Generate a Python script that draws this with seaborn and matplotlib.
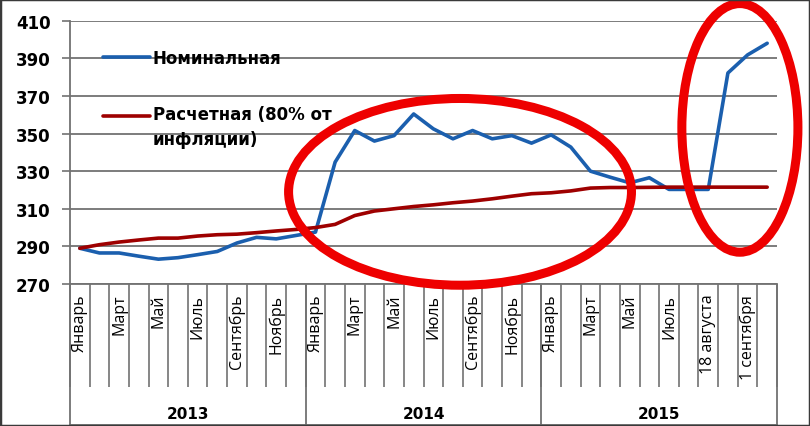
import matplotlib
matplotlib.use("Agg")
import matplotlib.pyplot as plt
import seaborn as sns
import pandas as pd
import numpy as np
from matplotlib.patches import Ellipse, Rectangle
from matplotlib.lines import Line2D
from matplotlib.legend_handler import HandlerLine2D

# ---------------- data ----------------
months = ["Январь", "Февраль", "Март", "Апрель", "Май", "Июнь",
          "Июль", "Август", "Сентябрь", "Октябрь", "Ноябрь", "Декабрь"]
periods_2015 = ["Январь", "Февраль", "Март", "Апрель", "Май", "Июнь",
                "Июль", "11 августа", "18 августа", "25 августа",
                "1 сентября", "8 сентября"]
categories = months + months + periods_2015
years = ["2013", "2014", "2015"]
year_sizes = [12, 12, 12]

nominal = [289.0, 286.5, 286.5, 284.8, 283.2, 284.0, 285.6, 287.3, 291.8, 294.8, 294.0, 295.8,
           297.6, 334.8, 351.6, 346.0, 348.9, 360.4, 352.5, 347.2, 351.6, 347.2, 348.9, 344.9,
           349.3, 342.8, 330.0, 326.8, 323.8, 326.5, 320.3, 320.3, 320.3, 382.2, 391.8, 398.0]
estimated = [289.0, 290.9, 292.3, 293.4, 294.4, 294.4, 295.5, 296.2, 296.5, 297.3, 298.2, 299.0,
             300.0, 301.7, 306.4, 308.8, 310.0, 311.2, 312.1, 313.2, 314.1, 315.3, 316.7, 318.0,
             318.5, 319.5, 321.0, 321.3, 321.3, 321.4, 321.5, 321.5, 321.5, 321.5, 321.5, 321.5]

series_names = ["Номинальная", "Расчетная (80% от\nинфляции)"]
series_colors = ["#1b5fae", "#9e0000"]
y_ticks = [270, 290, 310, 330, 350, 370, 390, 410]

# ---------------- style ----------------
sns.set_theme(style="white")
plt.rcParams['font.family'] = ['DejaVu Sans']
plt.rcParams['text.color'] = 'black'
plt.rcParams['xtick.color'] = 'black'
plt.rcParams['ytick.color'] = 'black'

W, H = 810, 427
fig = plt.figure(figsize=(W / 100, H / 100), dpi=100)
ax_left, ax_right, ax_top, ax_bottom = 70, 777, 21.7, 285
ax_h_px = ax_bottom - ax_top
ax = fig.add_axes([ax_left / W, (H - ax_bottom) / H, (ax_right - ax_left) / W, ax_h_px / H])

n = len(categories)
df = pd.DataFrame({
    "idx": list(range(n)) * 2,
    "value": nominal + estimated,
    "series": [series_names[0]] * n + [series_names[1]] * n,
})
sns.lineplot(data=df, x="idx", y="value", hue="series", hue_order=series_names,
             palette=series_colors, linewidth=2.6, ax=ax, legend=False, sort=False, zorder=3)

ax.set_xlim(-0.5, n - 0.5)
ax.set_ylim(y_ticks[0], y_ticks[-1])
ax.set_xlabel("")
ax.set_ylabel("")

grid_c = "#727272"
ax.set_yticks(y_ticks)
ax.set_yticklabels([str(v) for v in y_ticks], fontsize=12, fontweight="bold", color="black")
ax.yaxis.grid(True, color=grid_c, linewidth=1.3)
ax.xaxis.grid(False)
ax.tick_params(axis="y", length=6, width=1.2, color=grid_c, direction="out", pad=8, left=True,
               labelcolor="black")

for s in ["top", "right"]:
    ax.spines[s].set_visible(False)
for s in ["left", "bottom"]:
    ax.spines[s].set_color(grid_c)
    ax.spines[s].set_linewidth(1.3)

# x ticks: labels every other category, boundaries as minor ticks
ax.set_xticks(list(range(0, n, 2)))
ax.set_xticklabels([categories[i] for i in range(0, n, 2)],
                   fontsize=11.5, family=["Open Sans", "DejaVu Sans"], color="black")
ax.set_xticks(np.arange(-0.5, n, 1.0), minor=True)
ax.tick_params(axis="x", which="major", length=0, pad=7, labelrotation=90, bottom=True)
ax.tick_params(axis="x", which="minor", length=103 * 0.72, width=1.2, color=grid_c,
               direction="out", bottom=True)

# year groups
xt = ax.get_xaxis_transform()
box_bottom = -(426 - ax_bottom) / ax_h_px
edges = np.concatenate([[0], np.cumsum(year_sizes)]) - 0.5
ax.vlines(edges, box_bottom, 0, transform=xt, colors=grid_c, linewidth=1.3, clip_on=False)
ax.plot([edges[0], edges[-1]], [box_bottom, box_bottom], transform=xt, color=grid_c,
        linewidth=1.3, clip_on=False)
for i, y in enumerate(years):
    cx = (edges[i] + edges[i + 1]) / 2
    ax.text(cx, -(415 - ax_bottom) / ax_h_px, y, transform=xt, ha="center", va="center",
            fontsize=11, fontweight="bold", color="black")

# legend
class ShiftedLineHandler(HandlerLine2D):
    def __init__(self, dy=0.0, **kw):
        super().__init__(**kw)
        self.dy = dy

    def create_artists(self, legend, orig_handle, xdescent, ydescent, width, height,
                       fontsize, trans):
        arts = super().create_artists(legend, orig_handle, xdescent, ydescent, width,
                                      height, fontsize, trans)
        for a in arts:
            a.set_ydata(np.asarray(a.get_ydata()) + self.dy)
        return arts

handles = [Line2D([], [], color=c, linewidth=2.6) for c in series_colors]
leg = ax.legend(handles, series_names, loc="upper left",
                bbox_to_anchor=((103 - ax_left) / (ax_right - ax_left), 1 - (50 - ax_top) / ax_h_px),
                frameon=False, borderpad=0, borderaxespad=0, handlelength=2.8,
                handletextpad=0.2, labelspacing=2.3,
                prop={"size": 12, "weight": "bold"},
                handler_map={handles[1]: ShiftedLineHandler(dy=8.6)})
for t in leg.get_texts():
    t.set_linespacing(1.45)
    t.set_color("black")

# highlight ellipses
ax.add_patch(Ellipse((19.36, 319.0), 17.46, 99.3, fill=False, edgecolor="#ee0000",
                     linewidth=6.5, clip_on=False, zorder=5))
ax.add_patch(Ellipse((33.61, 353.0), 5.91, 132.2, fill=False, edgecolor="#ee0000",
                     linewidth=6.5, clip_on=False, zorder=5))

fig.patches.append(Rectangle((0, 0), 1, 1, transform=fig.transFigure, fill=False,
                             edgecolor="#3a3a3a", linewidth=2.5))

fig.savefig("out.png", dpi=100)
